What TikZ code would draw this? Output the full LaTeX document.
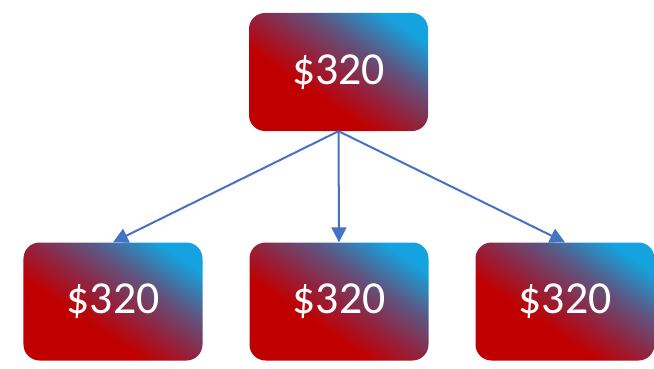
\documentclass[tikz,border=0pt]{standalone}
\usepackage{fontspec}
\setmainfont{Carlito}
\usetikzlibrary{arrows.meta,positioning}

\definecolor{pptred}{HTML}{C00000}
\definecolor{pptwine}{HTML}{92233F}
\definecolor{pptmid}{HTML}{5E5580}
\definecolor{pptblue}{HTML}{14A3DE}
\definecolor{linkblue}{HTML}{4472C4}

\pgfdeclarehorizontalshading{redblue}{100bp}{color(0bp)=(pptred); color(30bp)=(pptred); color(39bp)=(pptred); color(50bp)=(pptwine); color(62bp)=(pptmid); color(76bp)=(pptblue); color(100bp)=(pptblue)}

\tikzset{
  pricebox/.style={shading=redblue, shading angle=56, rounded corners=16bp,
    minimum width=179bp, minimum height=118bp, text=white, inner sep=0pt,
    font=\fontsize{46}{50}\selectfont},
  link/.style={draw=linkblue, line width=2bp, -{Triangle[length=15bp,width=15bp]}}
}

\begin{document}
\begin{tikzpicture}[x=1bp, y=1bp]
    \useasboundingbox (0,0) rectangle (654,368);

    % Top box
    \node[pricebox] (top) at (338.5, 296) {\$320};

    % Bottom row
    \node[pricebox] (left) at (113, 66.5) {\$320};
    \node[pricebox] (mid) at (339, 66.5) {\$320};
    \node[pricebox] (right) at (565, 66.5) {\$320};

    % Arrows
    \draw[link] (top.south) -- (left.north);
    \draw[link] (top.south) -- (mid.north);
    \draw[link] (top.south) -- (right.north);
\end{tikzpicture}
\end{document}
